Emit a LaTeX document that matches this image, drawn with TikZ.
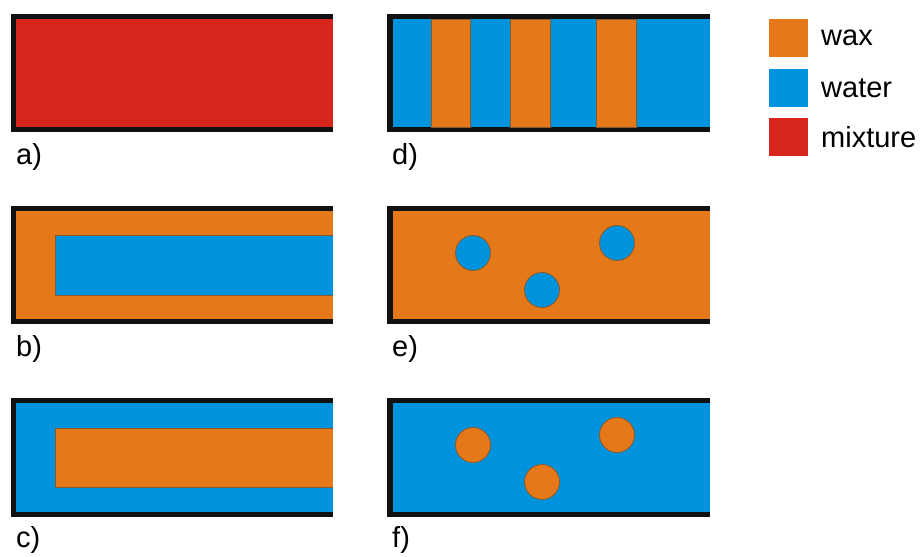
\documentclass[tikz,border=0pt]{standalone}
\usepackage{fontspec}
\setmainfont{Liberation Sans}
\definecolor{wax}{HTML}{E57818}
\definecolor{water}{HTML}{0093DD}
\definecolor{mix}{HTML}{D9261C}
\definecolor{frame}{HTML}{111111}
\definecolor{edge}{HTML}{8A5A2A}
\tikzset{
  framebox/.style={fill=frame},
  waxfill/.style={fill=wax},
  waterfill/.style={fill=water},
  mixfill/.style={fill=mix},
  inner/.style={draw=edge, line width=0.8bp},
  drop/.style={draw=edge, line width=0.8bp},
  lbl/.style={anchor=base west, inner sep=0pt, font=\fontsize{29bp}{29bp}\selectfont},
  legtext/.style={anchor=west, inner sep=0pt, font=\fontsize{29bp}{29bp}\selectfont},
}
\begin{document}
\begin{tikzpicture}[x=1bp,y=-1bp]
\useasboundingbox (0,0) rectangle (921,557);
% a) mixture
\fill[framebox] (11,14) rectangle (333,132);
\fill[mixfill] (16,19) rectangle (333,127);
\node[lbl] (la) at (16,165) {a)};
% b) wax with water core
\fill[framebox] (11,206) rectangle (333,324);
\fill[waxfill] (16,211) rectangle (333,319);
\filldraw[waterfill,inner] (333,235) -- (55,235) -- (55,295) -- (333,295);
\node[lbl] (lb) at (16,357) {b)};
% c) water with wax core
\fill[framebox] (11,398) rectangle (333,517);
\fill[waterfill] (16,403) rectangle (333,512);
\filldraw[waxfill,inner] (333,428) -- (55,428) -- (55,487) -- (333,487);
\node[lbl] (lc) at (16,547) {c)};
% d) stripes
\fill[framebox] (387,14) rectangle (710,132);
\fill[waterfill] (393,19) rectangle (710,127);
\filldraw[waxfill,inner] (431,19) rectangle (470,127);
\filldraw[waxfill,inner] (510,19) rectangle (550,127);
\filldraw[waxfill,inner] (596,19) rectangle (636,127);
\node[lbl] (ld) at (392,165) {d)};
% e) water drops in wax
\fill[framebox] (387,206) rectangle (710,324);
\fill[waxfill] (393,211) rectangle (710,319);
\filldraw[waterfill,drop] (473,253) circle (17.5);
\filldraw[waterfill,drop] (542,290) circle (17.5);
\filldraw[waterfill,drop] (617,243) circle (17.5);
\node[lbl] (le) at (392,357) {e)};
% f) wax drops in water
\fill[framebox] (387,398) rectangle (710,517);
\fill[waterfill] (393,403) rectangle (710,512);
\filldraw[waxfill,drop] (473,445) circle (17.5);
\filldraw[waxfill,drop] (542,482) circle (17.5);
\filldraw[waxfill,drop] (617,435) circle (17.5);
\node[lbl] (lf) at (392,547) {f)};
% legend
\fill[waxfill] (769,19) rectangle (808,57);
\fill[waterfill] (769,69) rectangle (808,107);
\fill[mixfill] (769,118) rectangle (808,156);
\node[legtext] (t1) at (821,38) {wax};
\node[legtext] (t2) at (821,88) {water};
\node[legtext] (t3) at (821,137) {mixture};
\end{tikzpicture}
\end{document}
